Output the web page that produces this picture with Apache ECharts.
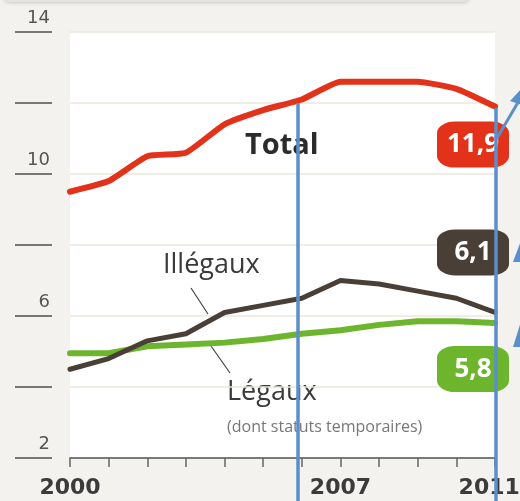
<!DOCTYPE html>
<html>
<head>
<meta charset="utf-8">
<script src="https://cdn.jsdelivr.net/npm/echarts@6/dist/echarts.min.js"></script>
<style>
  html, body { margin: 0; padding: 0; background: #f3f2ee; }
  #chart { width: 520px; height: 501px; }
</style>
</head>
<body>
<div id="chart"></div>
<script>
const years = [2000, 2001, 2002, 2003, 2004, 2005, 2006, 2007, 2008, 2009, 2010, 2011]
const total = [9.5, 9.8, 10.5, 10.6, 11.4, 11.8, 12.1, 12.6, 12.6, 12.6, 12.4, 11.9]
const illegaux = [4.5, 4.8, 5.3, 5.5, 6.1, 6.3, 6.5, 7.0, 6.9, 6.7, 6.5, 6.1]
const legaux = [4.95, 4.95, 5.15, 5.2, 5.25, 5.35, 5.5, 5.6, 5.75, 5.85, 5.85, 5.8]
const yLabels = [2, 6, 10, 14]
// the 2011 label sits a touch left of its tick so it stays inside the canvas
const xLabelPos = [2000, 2007, 2010.85]

const blue = '#5b8fca'

const toPairs = vals => vals.map((v, i) => [years[i], v])
const fmt = v => v.toFixed(1).replace('.', ',')

const endBox = (vals, color, dy) => ({
  symbol: 'roundRect',
  symbolSize: [72, 46],
  symbolOffset: [-22, dy],
  itemStyle: { color },
  label: {
    show: true,
    color: '#fff',
    fontFamily: 'Open Sans',
    fontWeight: 'bold',
    fontSize: 26,
    formatter: p => fmt(p.value),
  },
  data: [{ coord: [years[years.length - 1], vals[vals.length - 1]], value: vals[vals.length - 1] }],
})

const lineSeries = (name, vals, color, width, dy, smooth) => ({
  name,
  type: 'line',
  data: toPairs(vals),
  showSymbol: false,
  smooth,
  lineStyle: { color, width, join: 'round', cap: 'round' },
  markPoint: endBox(vals, color, dy),
  animation: false,
})

const chart = echarts.init(document.getElementById('chart'))
chart.setOption({
  backgroundColor: '#f3f2ee',
  animation: false,
  grid: {
    left: 70, right: 25, top: 32, bottom: 43,
    outerBoundsMode: 'none',
    containLabel: false,
    show: true, backgroundColor: '#fff', borderWidth: 0,
  },
  xAxis: {
    type: 'value',
    min: 2000,
    max: 2011,
    interval: 1,
    axisLine: { show: true, lineStyle: { color: '#555', width: 1.5 } },
    axisTick: {
      show: true,
      customValues: years,
      length: 9,
      lineStyle: { color: '#666', width: 1.5 },
    },
    splitLine: { show: false },
    axisLabel: {
      customValues: xLabelPos,
      margin: 19,
      color: '#3b3b3b',
      fontFamily: 'DejaVu Sans',
      fontWeight: 'bold',
      fontSize: 22,
      formatter: v => String(Math.round(v)),
    },
  },
  yAxis: {
    type: 'value',
    min: 2,
    max: 14,
    interval: 2,
    offset: 18,
    axisLine: { show: false },
    axisTick: { show: true, length: 37, lineStyle: { color: '#777', width: 2 } },
    splitLine: { show: true, lineStyle: { color: '#ebe8da', width: 1.5 } },
    axisLabel: {
      margin: 2,
      verticalAlign: 'bottom',
      padding: [0, 0, 5, 0],
      color: '#555',
      fontFamily: 'DejaVu Sans',
      fontSize: 18,
      formatter: v => (yLabels.includes(v) ? String(v) : ''),
    },
  },
  series: [
    lineSeries('Légaux', legaux, '#6cb52d', 6, 46, false),
    lineSeries('Illégaux', illegaux, '#4a3f37', 5, -60, false),
    lineSeries('Total', total, '#e3321a', 6, 38, 0.15),
  ],
  graphic: [
    // top frame edge
    { type: 'rect', shape: { x: 5, y: -12, width: 463, height: 14, r: 4 },
      style: { fill: '#e4e3df', shadowBlur: 4, shadowColor: 'rgba(0,0,0,0.25)' } },
    { type: 'text', left: 245, top: 131,
      style: { text: 'Total', font: 'bold 29px "Open Sans"', fill: '#2b2b2b' } },
    { type: 'text', left: 163, top: 252,
      style: { text: 'Illégaux', font: '27px "Open Sans"', fill: '#3a3a3a' } },
    { type: 'line', shape: { x1: 191, y1: 288, x2: 208, y2: 314 },
      style: { stroke: '#444', lineWidth: 1.2 } },
    { type: 'text', left: 227, top: 379,
      style: { text: 'Légaux', font: '27px "Open Sans"', fill: '#3a3a3a' } },
    { type: 'line', shape: { x1: 211, y1: 346, x2: 230, y2: 373 },
      style: { stroke: '#444', lineWidth: 1.2 } },
    { type: 'text', left: 227, top: 419,
      style: { text: '(dont statuts temporaires)', font: '16px "Open Sans"', fill: '#777' } },
    // blue overlay marks
    { type: 'line', z: 100, shape: { x1: 298, y1: 103, x2: 298, y2: 501 },
      style: { stroke: blue, lineWidth: 3.5 } },
    { type: 'line', z: 100, shape: { x1: 496, y1: 108, x2: 496, y2: 501 },
      style: { stroke: blue, lineWidth: 3.5 } },
    { type: 'line', z: 100, shape: { x1: 497, y1: 138, x2: 520, y2: 99 },
      style: { stroke: blue, lineWidth: 3 } },
    { type: 'polygon', z: 100, shape: { points: [[510, 101], [522, 88], [522, 105]] },
      style: { fill: blue } },
    { type: 'polygon', z: 100, shape: { points: [[513, 262], [522, 238], [522, 262]] },
      style: { fill: blue } },
    { type: 'polygon', z: 100, shape: { points: [[513, 347], [522, 318], [522, 347]] },
      style: { fill: blue } },
  ],
})
</script>
</body>
</html>
